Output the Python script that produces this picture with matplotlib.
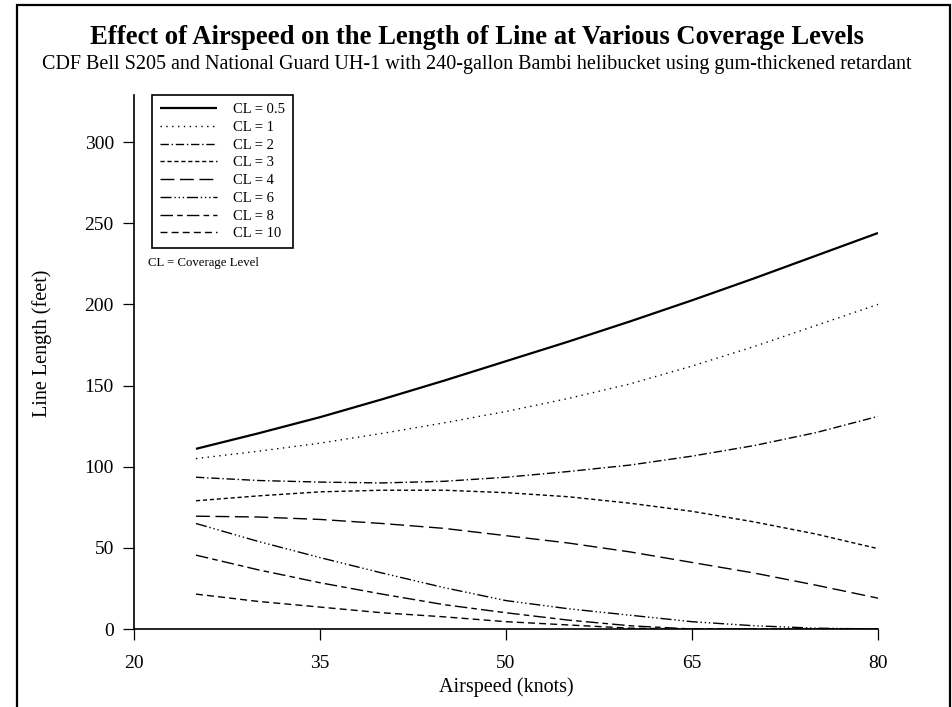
import matplotlib
matplotlib.use("Agg")
import matplotlib.pyplot as plt
from matplotlib.patches import Rectangle

# --- dados ---
airspeed = [25, 30, 35, 40, 45, 50, 55, 60, 65, 70, 75, 80]
cl_05 = [111, 120.5, 130.5, 141.5, 153, 165, 177, 189.5, 202.5, 216, 230, 244]
cl_1 = [105, 109.5, 114.5, 120.5, 127, 134, 142, 151, 162, 174, 187, 200]
cl_2 = [93.5, 91.5, 90.5, 90, 91, 93.5, 97, 101, 106.5, 113, 121, 131]
cl_3 = [79, 82, 84.5, 85.5, 85.5, 84, 81.5, 77.5, 72.5, 66, 58.5, 49.5]
cl_4 = [69.5, 69, 67.5, 65, 62, 57.5, 53, 47.5, 41, 34.5, 27, 19]
cl_6 = [65, 54, 44, 34.5, 25.5, 17.5, 12.5, 8.5, 4.5, 2, 0.5, 0]
cl_8 = [45.5, 36.5, 28.5, 21.5, 15, 10, 5.5, 2, 0, 0, 0, 0]
cl_10 = [21.5, 17, 13.5, 10, 7.5, 4.5, 2.5, 0.5, 0, 0, 0, 0]

rotulos = ["CL = 0.5", "CL = 1", "CL = 2", "CL = 3", "CL = 4", "CL = 6", "CL = 8", "CL = 10"]
series = [cl_05, cl_1, cl_2, cl_3, cl_4, cl_6, cl_8, cl_10]
x_ticks = [20, 35, 50, 65, 80]
y_ticks = [0, 50, 100, 150, 200, 250, 300]

estilos = [
    (0, ()),
    (0, (1, 3.2)),
    (0, (6, 2, 1, 2)),
    (0, (3, 2)),
    (0, (10, 4)),
    (0, (8, 2, 1, 2, 1, 2, 1, 2)),
    (0, (9, 3, 4, 3)),
    (0, (5, 3)),
]
larguras = [1.6, 1, 1, 1, 1, 1, 1, 1]

plt.rcParams['font.family'] = ['Liberation Serif', 'DejaVu Serif']

fig = plt.figure(figsize=(9.53, 7.07), dpi=100)
ax = fig.add_axes([134 / 953, 1 - 629 / 707, 744 / 953, 534 / 707])

for ys, lab, ls, lw in zip(series, rotulos, estilos, larguras):
    ax.plot(airspeed, ys, color='black', linestyle=ls, linewidth=lw, label=lab)

ax.set_xlim(20, 80)
ax.set_ylim(0, 329)
ax.set_xticks(x_ticks)
ax.set_yticks(y_ticks)
ax.tick_params(direction='out', length=8, width=0.9, labelsize=14, colors='black')
ax.tick_params(axis='x', pad=11)
ax.tick_params(axis='y', pad=6.5)
for s in ['top', 'right']:
    ax.spines[s].set_visible(False)
for s in ['left', 'bottom']:
    ax.spines[s].set_linewidth(1.2)

ax.set_xlabel("Airspeed (knots)", fontsize=14.5)
ax.set_ylabel("Line Length (feet)", fontsize=14.5)
ax.xaxis.set_label_coords(0.5, -(677 - 629) / 534)
ax.yaxis.set_label_coords((52 - 134) / 744, 0.535)

leg = ax.legend(loc='upper left', bbox_to_anchor=(18 / 744, 1.0), fontsize=10.5,
                frameon=True, fancybox=False, framealpha=1, edgecolor='black',
                handlelength=3.9, handletextpad=1.1, labelspacing=0.31,
                borderpad=0.55, borderaxespad=0)
leg.get_frame().set_linewidth(1.2)

ax.text(14 / 744, 1 - 168 / 534, "CL = Coverage Level", transform=ax.transAxes,
        fontsize=9.2, ha='left', va='center')

fig.text(0.5, 1 - 38 / 707, "Effect of Airspeed on the Length of Line at Various Coverage Levels",
         ha='center', va='center', fontsize=19.2, fontweight='bold')
fig.text(0.5, 1 - 65 / 707,
         "CDF Bell S205 and National Guard UH-1 with 240-gallon Bambi helibucket using gum-thickened retardant",
         ha='center', va='center', fontsize=14.5)

# moldura externa
fig.patches.append(Rectangle((17 / 953, -0.05), (950 - 17) / 953, 1.05 - 5 / 707,
                             transform=fig.transFigure, fill=False,
                             edgecolor='black', linewidth=1.6))

fig.savefig("out.png", dpi=100)
